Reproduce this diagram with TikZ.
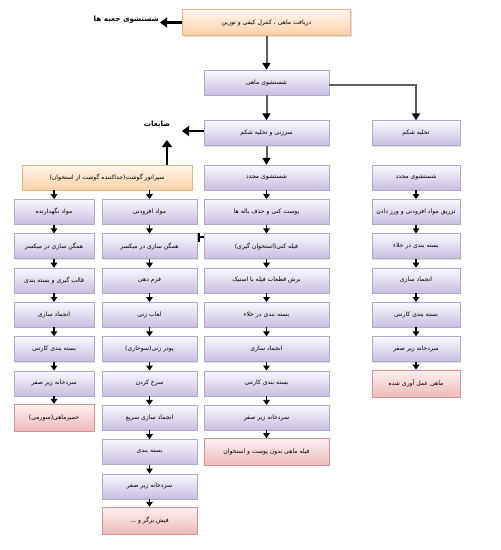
\documentclass[tikz,border=0pt]{standalone}
\usepackage{fontspec}
\newfontfamily\fafont[Script=Arabic]{DejaVu Sans}
\TeXXeTstate=1
\usetikzlibrary{arrows.meta,shadows}
\newcommand{\rtl}[1]{\beginR #1\endR}
\definecolor{boxtop}{RGB}{250,248,253}
\definecolor{boxbot}{RGB}{200,190,223}
\definecolor{boxline}{RGB}{178,168,205}
\definecolor{srctop}{RGB}{255,247,238}
\definecolor{srcbot}{RGB}{251,207,168}
\definecolor{srcline}{RGB}{238,178,128}
\definecolor{endtop}{RGB}{253,240,240}
\definecolor{endbot}{RGB}{236,186,186}
\definecolor{endline}{RGB}{218,145,145}
\definecolor{flowgray}{RGB}{95,95,95}
\tikzset{
  procbox/.style={rectangle, draw=boxline, top color=boxtop, bottom color=boxbot,
    minimum height=25pt, inner sep=1pt, font={\fafont\fontsize{6.1}{7}\selectfont},
    drop shadow={opacity=0.25, shadow xshift=1pt, shadow yshift=-1pt}},
  srcbox/.style={procbox, draw=srcline, top color=srctop, bottom color=srcbot, minimum height=26pt},
  endbox/.style={procbox, draw=endline, top color=endtop, bottom color=endbot, minimum height=27pt},
  sidelabel/.style={inner sep=1pt, font={\fafont\bfseries\fontsize{7.2}{8}\selectfont}},
  flow/.style={draw=flowgray, line width=2pt, -{Triangle[length=7pt,width=8pt,color=black]}},
  stepar/.style={line width=1.5pt, -{Triangle[length=5pt,width=6.5pt]}},
  side/.style={line width=2.6pt, -{Triangle[length=7pt,width=10pt]}}
}
\begin{document}
\begin{tikzpicture}[x=1pt,y=-1pt]
  \useasboundingbox (0,0) rectangle (501,550);
  % main line
  \node[srcbox, minimum width=168pt] (recv) at (266.5,22.5) {\rtl{دریافت ماهی ، کنترل کیفی و توزین}};
  \node[sidelabel, anchor=east] (boxwash) at (160,20) {\rtl{شستشوی جعبه ها}};
  \node[procbox, minimum width=125pt] (wash) at (266.5,82.5) {\rtl{شستشوی ماهی}};
  \node[procbox, minimum width=125pt] (trim) at (266.5,133) {\rtl{سرزنی و تخلیه شکم}};
  \node[procbox, minimum width=88pt] (gut) at (416,133) {\rtl{تخلیه شکم}};
  \node[sidelabel] (waste) at (157,124) {\rtl{ضایعات}};
  \coordinate (wasteIn) at (182,131);
  \coordinate (wasteUp) at (167,140);
  \coordinate (bonestub) at (198,237);
  % middle column
  \node[procbox, minimum width=125pt] (rewash) at (266.5,177.5) {\rtl{شستشوی مجدد}};
  \node[procbox, minimum width=125pt] (skin) at (266.5,211.8) {\rtl{پوست کنی و حذف باله ها}};
  \node[procbox, minimum width=125pt] (fillet) at (266.5,246.1) {\rtl{فیله کنی(استخوان گیری)}};
  \node[procbox, minimum width=125pt] (steak) at (266.5,280.4) {\rtl{برش قطعات فیله یا استیک}};
  \node[procbox, minimum width=125pt] (mvac) at (266.5,314.7) {\rtl{بسته بندی در خلاء}};
  \node[procbox, minimum width=125pt] (mfrz) at (266.5,349) {\rtl{انجماد سازی}};
  \node[procbox, minimum width=125pt] (mcart) at (266.5,383.3) {\rtl{بسته بندی کارتنی}};
  \node[procbox, minimum width=125pt] (mcold) at (266.5,417.6) {\rtl{سردخانه زیر صفر}};
  \node[endbox, minimum width=125pt] (mfillet) at (266.5,451.9) {\rtl{فیله ماهی بدون پوست و استخوان}};
  % right column
  \node[procbox, minimum width=88pt] (rwash) at (416,177.5) {\rtl{شستشوی مجدد}};
  \node[procbox, minimum width=88pt] (inject) at (416,211.8) {\rtl{تزریق مواد افزودنی و ورز دادن}};
  \node[procbox, minimum width=88pt] (rvac) at (416,246.1) {\rtl{بسته بندی در خلاء}};
  \node[procbox, minimum width=88pt] (rfrz) at (416,280.4) {\rtl{انجماد سازی}};
  \node[procbox, minimum width=88pt] (rcart) at (416,314.7) {\rtl{بسته بندی کارتنی}};
  \node[procbox, minimum width=88pt] (rcold) at (416,349) {\rtl{سردخانه زیر صفر}};
  \node[endbox, minimum width=88pt] (cured) at (416,383.3) {\rtl{ماهی عمل آوری شده}};
  % separator and left columns
  \node[srcbox, minimum width=170pt, minimum height=25pt] (sep) at (107,177.5) {\rtl{سپراتور گوشت(جداکننده گوشت از استخوان)}};
  \node[procbox, minimum width=80pt] (pres) at (54,211.8) {\rtl{مواد نگهدارنده}};
  \node[procbox, minimum width=80pt] (amix) at (54,246.1) {\rtl{همگن سازی در میکسر}};
  \node[procbox, minimum width=80pt] (mould) at (54,280.4) {\rtl{قالب گیری و بسته بندی}};
  \node[procbox, minimum width=80pt] (afrz) at (54,314.7) {\rtl{انجماد سازی}};
  \node[procbox, minimum width=80pt] (acart) at (54,349) {\rtl{بسته بندی کارتنی}};
  \node[procbox, minimum width=80pt] (acold) at (54,383.3) {\rtl{سردخانه زیر صفر}};
  \node[endbox, minimum width=80pt] (surimi) at (54,417.6) {\rtl{خمیرماهی(سورمی)}};
  \node[procbox, minimum width=95pt] (addit) at (149.5,211.8) {\rtl{مواد افزودنی}};
  \node[procbox, minimum width=95pt] (bmix) at (149.5,246.1) {\rtl{همگن سازی در میکسر}};
  \node[procbox, minimum width=95pt] (form) at (149.5,280.4) {\rtl{فرم دهی}};
  \node[procbox, minimum width=95pt] (batter) at (149.5,314.7) {\rtl{لعاب زنی}};
  \node[procbox, minimum width=95pt] (bread) at (149.5,349) {\rtl{پودر زنی(سوخاری)}};
  \node[procbox, minimum width=95pt] (fry) at (149.5,383.3) {\rtl{سرخ کردن}};
  \node[procbox, minimum width=95pt] (bfrz) at (149.5,417.6) {\rtl{انجماد سازی سریع}};
  \node[procbox, minimum width=95pt] (bpack) at (149.5,451.9) {\rtl{بسته بندی}};
  \node[procbox, minimum width=95pt] (bcold) at (149.5,486.2) {\rtl{سردخانه زیر صفر}};
  \node[endbox, minimum width=95pt] (burger) at (149.5,520.5) {\rtl{فیش برگر و ...}};
  % thick connectors
  \draw[flow] (recv) -- (wash);
  \draw[flow] (wash) -- (trim);
  \draw[flow] (trim) -- (rewash);
  \draw[flow] ([yshift=-2pt]wash.east) -| (gut.north);
  \draw[side] (recv.west) -- (recv.west -| boxwash.east);
  \draw[side] (trim.west |- wasteIn) -- (wasteIn);
  \draw[side] (sep.north -| wasteUp) -- (wasteUp);
  \draw[line width=1.6pt, {Bar[width=9pt]}-] (bonestub) -- (bonestub -| fillet.west);
  % steps, middle
  \draw[stepar] (rewash) -- (skin);
  \draw[stepar] (skin) -- (fillet);
  \draw[stepar] (fillet) -- (steak);
  \draw[stepar] (steak) -- (mvac);
  \draw[stepar] (mvac) -- (mfrz);
  \draw[stepar] (mfrz) -- (mcart);
  \draw[stepar] (mcart) -- (mcold);
  \draw[stepar] (mcold) -- (mfillet);
  % steps, right
  \draw[stepar] (rwash) -- (inject);
  \draw[stepar] (inject) -- (rvac);
  \draw[stepar] (rvac) -- (rfrz);
  \draw[stepar] (rfrz) -- (rcart);
  \draw[stepar] (rcart) -- (rcold);
  \draw[stepar] (rcold) -- (cured);
  % steps, left
  \draw[stepar] (sep.south -| pres) -- (pres);
  \draw[stepar] (sep.south -| addit) -- (addit);
  \draw[stepar] (pres) -- (amix);
  \draw[stepar] (amix) -- (mould);
  \draw[stepar] (mould) -- (afrz);
  \draw[stepar] (afrz) -- (acart);
  \draw[stepar] (acart) -- (acold);
  \draw[stepar] (acold) -- (surimi);
  \draw[stepar] (addit) -- (bmix);
  \draw[stepar] (bmix) -- (form);
  \draw[stepar] (form) -- (batter);
  \draw[stepar] (batter) -- (bread);
  \draw[stepar] (bread) -- (fry);
  \draw[stepar] (fry) -- (bfrz);
  \draw[stepar] (bfrz) -- (bpack);
  \draw[stepar] (bpack) -- (bcold);
  \draw[stepar] (bcold) -- (burger);
\end{tikzpicture}
\end{document}
